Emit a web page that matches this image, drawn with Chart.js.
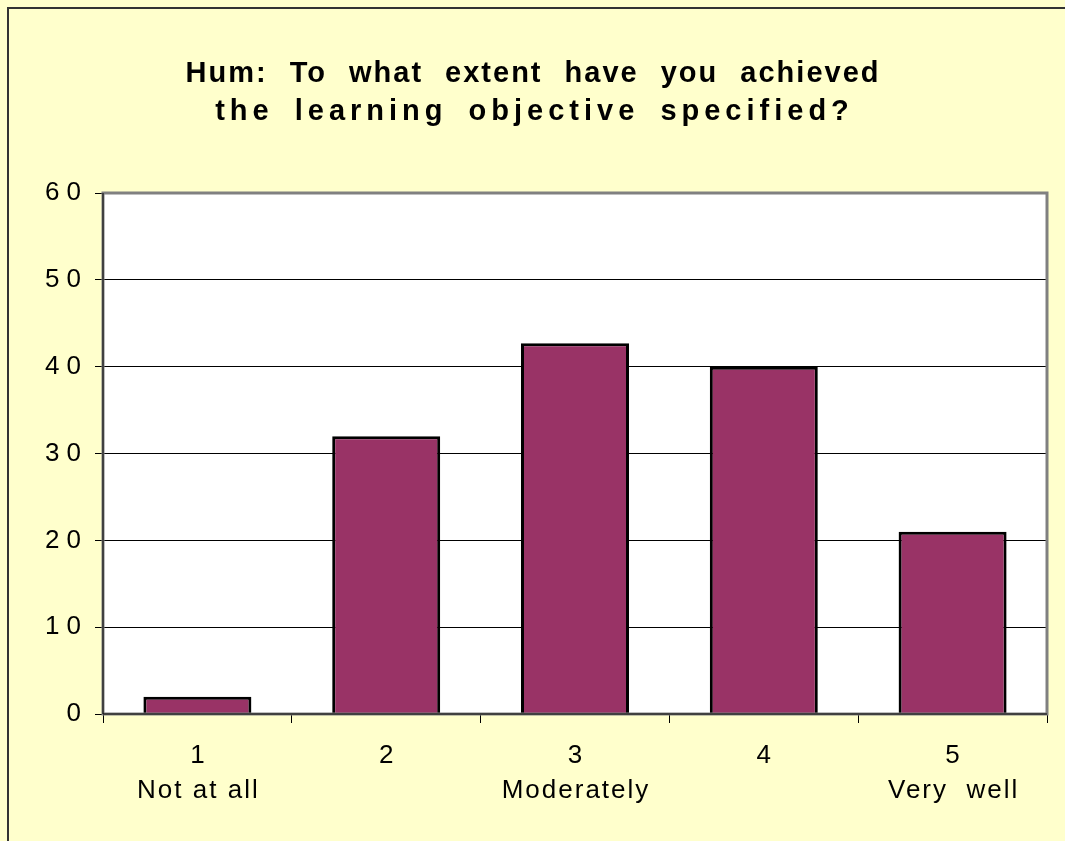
<!DOCTYPE html>
<html lang="en">
<head>
    <meta charset="UTF-8">
    <title>Hum: learning objective</title>
    <script src="https://cdn.jsdelivr.net/npm/chart.js@4.4.0/dist/chart.umd.min.js"></script>
    <style>
        body {
            margin: 0;
            background-color: #ffffcc;
            overflow: hidden;
        }
        /* outer frame, only top and left edges are visible in the window */
        .frame {
            position: absolute;
            left: 7px;
            top: 7px;
            width: 1200px;
            height: 1000px;
            border-top: 2px solid #333;
            border-left: 2px solid #333;
        }
        .chart-box {
            position: absolute;
            left: 0;
            top: 0;
            width: 1065px;
            height: 841px;
        }
    </style>
</head>
<body>
    <div class="frame"></div>
    <div class="chart-box">
        <canvas id="barChart"></canvas>
    </div>

    <script>
        // Data
        const categories = [['1', 'Not at all'], ['2', ''], ['3', 'Moderately'], ['4', ''], ['5', 'Very  well']];
        const responses = [2, 32, 42.7, 40, 21];
        const titleLines = ['Hum: To what extent have you achieved', 'the learning objective specified?'];

        // letter / word spacing of the two title lines (Excel spreads them differently)
        const titleSpacing = [[2, 12], [5, 8]];

        // Excel-style wide letter spacing on the texts
        const spacingPlugin = {
            id: 'spacing',
            beforeDraw(chart) {
                const ctx = chart.ctx;
                if (ctx._spaced) return;
                const fill = ctx.fillText.bind(ctx);
                ctx.fillText = function (text, x, y, w) {
                    let s = 2, ws = 0;
                    const t = titleLines.indexOf(text);
                    if (t >= 0) { s = titleSpacing[t][0]; ws = titleSpacing[t][1]; }
                    else if (ctx.textAlign === 'right') s = 7;
                    ctx.letterSpacing = s + 'px';
                    ctx.wordSpacing = ws + 'px';
                    if (ctx.textAlign === 'right') x += s;
                    else if (ctx.textAlign === 'center') x += s / 2;
                    fill(text, x, y, w);
                    ctx.letterSpacing = '0px';
                    ctx.wordSpacing = '0px';
                };
                ctx._spaced = true;
            }
        };

        // White plot area with a grey frame
        const plotArea = {
            id: 'plotArea',
            beforeDraw(chart) {
                const { ctx, chartArea: a } = chart;
                ctx.save();
                ctx.fillStyle = '#ffffff';
                ctx.fillRect(a.left, a.top, a.right - a.left, a.bottom - a.top);
                ctx.restore();
            },
            afterDatasetsDraw(chart) {
                const { ctx, chartArea: a } = chart;
                ctx.save();
                ctx.strokeStyle = '#808080';
                ctx.lineWidth = 3;
                ctx.strokeRect(a.left, a.top, a.right - a.left, a.bottom - a.top);
                ctx.strokeStyle = '#000000';
                ctx.lineWidth = 1;
                ctx.beginPath();
                ctx.moveTo(a.left, a.top);
                ctx.lineTo(a.left, a.bottom);
                ctx.lineTo(a.right, a.bottom);
                ctx.stroke();
                ctx.restore();
            }
        };

        Chart.defaults.font.family = "'Liberation Sans', Arial, sans-serif";
        Chart.defaults.color = '#000000';

        new Chart(document.getElementById('barChart'), {
            type: 'bar',
            data: {
                labels: categories,
                datasets: [{
                    data: responses,
                    backgroundColor: '#993366',
                    borderColor: '#000000',
                    borderWidth: 3,
                    barPercentage: 0.572,
                    categoryPercentage: 1
                }]
            },
            options: {
                responsive: true,
                maintainAspectRatio: false,
                animation: false,
                layout: { padding: { top: 0, left: 17, right: 18, bottom: 0 } },
                plugins: {
                    legend: { display: false },
                    tooltip: { enabled: false },
                    title: {
                        display: true,
                        text: titleLines,
                        color: '#000000',
                        font: { size: 29, weight: 'bold', lineHeight: '38px' },
                        padding: { top: 55, bottom: 62 }
                    }
                },
                scales: {
                    x: {
                        grid: {
                            drawOnChartArea: false,
                            drawTicks: true,
                            tickLength: 9,
                            color: '#000000'
                        },
                        border: { display: false },
                        ticks: {
                            font: { size: 26, lineHeight: '35px' },
                            padding: 15,
                            maxRotation: 0,
                            autoSkip: false
                        },
                        afterFit(scale) { scale.height = 127; }
                    },
                    y: {
                        min: 0,
                        max: 60,
                        grid: {
                            color: '#000000',
                            lineWidth: 1,
                            tickLength: 8
                        },
                        border: { display: false },
                        ticks: {
                            stepSize: 10,
                            font: { size: 26 },
                            padding: 14
                        },
                        afterFit(scale) { scale.width = 86; }
                    }
                }
            },
            plugins: [spacingPlugin, plotArea]
        });
    </script>
</body>
</html>
